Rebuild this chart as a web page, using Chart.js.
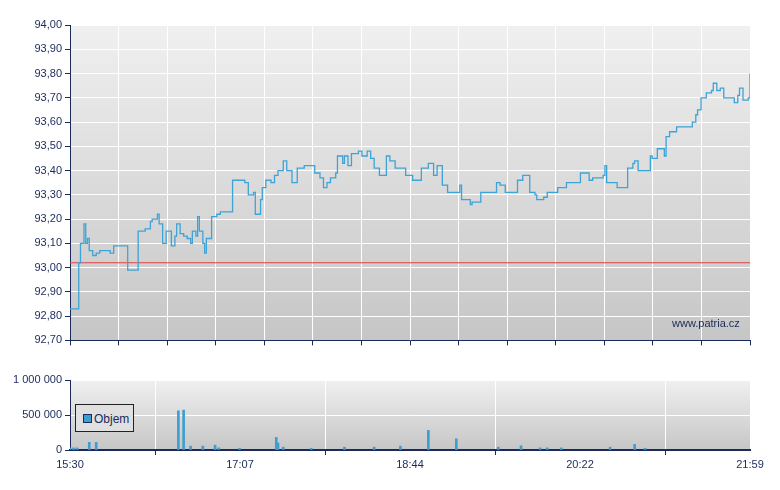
<!DOCTYPE html>
<html>
<head>
<meta charset="utf-8">
<script src="https://cdn.jsdelivr.net/npm/chart.js@4"></script>
<style>
  body { margin: 0; background: #fff; font-family: "Liberation Sans", Arial, sans-serif; }
  #wrap { position: relative; width: 780px; height: 490px; }
  .box { position: absolute; left: 0; width: 780px; }
  #legenda { position: absolute; left: 75px; top: 404px; width: 59px; height: 28px; border: 1px solid #222;
    background: #e0e0e0; font-size: 12px; color: #1a2a5a; box-sizing: border-box; padding: 7px 0 0 7px; }
  #legenda span { display: inline-block; width: 7px; height: 7px; background: #3d9fd0; border: 1px solid #1a2a5a; margin-right: 2px; }
  #patria { position: absolute; left: 672px; top: 317px; font-size: 11px; color: #1a2a5a; }
</style>
</head>
<body>
<div id="wrap">
  <div class="box" style="top:0;height:350px"><canvas id="grafCena"></canvas></div>
  <div class="box" style="top:370px;height:120px"><canvas id="grafObjem"></canvas></div>
  <div id="legenda"><span></span>Objem</div>
  <div id="patria">www.patria.cz</div>
</div>
<script>
// minuty od 15:30
const casy = [0,5,6,8,9,10,11,13,15,17,22,23,25,33,39,43,46,47,50,51,53,55,57,58,60,61,63,65,67,69,70,72,73,74,76,77,78,81,84,86,93,100,102,105,106,109,110,112,115,117,119,122,124,127,130,134,138,140,143,145,147,149,152,153,156,157,159,161,165,167,169,170,172,174,177,181,183,186,189,192,196,201,205,208,210,213,216,221,223,224,229,230,233,235,239,244,246,249,255,256,259,262,263,266,267,271,273,279,284,290,292,296,297,299,301,305,306,307,311,313,317,319,322,323,325,330,332,333,336,339,340,341,343,347,354,356,358,359,361,364,367,368,370,372,374,378,380,382,383,385,388,389];
const ceny = [92.83,93.02,93.10,93.18,93.10,93.12,93.07,93.05,93.06,93.07,93.07,93.06,93.09,92.99,93.15,93.16,93.19,93.20,93.22,93.18,93.10,93.15,93.15,93.09,93.13,93.18,93.14,93.13,93.12,93.10,93.15,93.13,93.21,93.15,93.10,93.06,93.12,93.21,93.22,93.23,93.36,93.35,93.30,93.31,93.22,93.28,93.33,93.36,93.35,93.38,93.40,93.44,93.40,93.35,93.41,93.42,93.42,93.39,93.37,93.33,93.35,93.37,93.39,93.46,93.43,93.46,93.42,93.47,93.48,93.46,93.46,93.48,93.45,93.41,93.38,93.46,93.44,93.41,93.41,93.38,93.36,93.41,93.43,93.38,93.42,93.34,93.31,93.31,93.34,93.28,93.26,93.27,93.27,93.31,93.31,93.35,93.34,93.31,93.31,93.36,93.38,93.38,93.31,93.30,93.28,93.29,93.31,93.33,93.35,93.35,93.39,93.39,93.36,93.37,93.37,93.38,93.42,93.35,93.35,93.33,93.33,93.41,93.43,93.44,93.40,93.40,93.46,93.45,93.49,93.49,93.46,93.54,93.56,93.58,93.58,93.60,93.63,93.65,93.70,93.72,93.73,93.76,93.73,93.74,93.70,93.70,93.68,93.71,93.74,93.69,93.70,93.80];
const predchoziZaviraci = 93.02;

const objemCasy = [0,2,4,11,15,62,65,69,76,83,85,97,118,119,122,138,157,174,189,205,221,245,258,269,273,281,309,323,329];
const objemy = [30000,30000,30000,110000,110000,560000,570000,55000,55000,70000,30000,25000,180000,100000,40000,25000,40000,40000,55000,280000,160000,40000,60000,30000,30000,30000,40000,80000,25000];

const popiskyCasu = ["15:30","17:07","18:44","20:22","21:59"];
const cenaTicky = [92.7, 94.0, 0.1];

const navy = "#1a2a5a";
const pismo = { family: "'Liberation Sans', Arial, sans-serif", size: 11 };

const pozadi = {
  id: "pozadi",
  beforeDraw(chart) {
    const { ctx, chartArea: a } = chart;
    const g = ctx.createLinearGradient(0, a.top, 0, a.bottom);
    g.addColorStop(0, "#f0f0f0");
    g.addColorStop(1, "#c6c6c6");
    ctx.save();
    ctx.fillStyle = g;
    ctx.fillRect(a.left, a.top, a.right - a.left, a.bottom - a.top);
    ctx.restore();
  }
};

new Chart(document.getElementById("grafCena"), {
  type: "line",
  data: {
    datasets: [
      {
        data: casy.map((c, i) => ({ x: c, y: ceny[i] })),
        borderColor: "#3ea3d6", borderWidth: 1.3, pointRadius: 0, stepped: true, order: 1
      },
      {
        data: [{ x: 0, y: predchoziZaviraci }, { x: 389, y: predchoziZaviraci }],
        borderColor: "#e04040", borderWidth: 1, pointRadius: 0, order: 2
      }
    ]
  },
  options: {
    responsive: true, maintainAspectRatio: false, animation: false,
    layout: { padding: { top: 25, right: 30, bottom: 5, left: 0 } },
    plugins: { legend: { display: false }, tooltip: { enabled: false } },
    scales: {
      x: {
        type: "linear", min: 0, max: 389,
        afterBuildTicks: s => { s.ticks = Array.from({ length: 15 }, (_, i) => ({ value: i * 389 / 14 })); },
        afterFit: s => { s.height = 0; },
        ticks: { display: false },
        grid: { color: "#ffffff", lineWidth: 1, tickColor: navy, tickLength: 5 },
        border: { color: navy, width: 1 }
      },
      y: {
        min: cenaTicky[0], max: cenaTicky[1],
        afterFit: s => { s.width = 70; },
        ticks: { stepSize: cenaTicky[2], color: navy, font: pismo, callback: v => v.toFixed(2).replace(".", ",") },
        grid: { color: "#ffffff", lineWidth: 1, tickColor: navy, tickLength: 5 },
        border: { color: navy, width: 1 }
      }
    }
  },
  plugins: [pozadi]
});

new Chart(document.getElementById("grafObjem"), {
  type: "bar",
  data: {
    datasets: [{
      data: objemCasy.map((c, i) => ({ x: c, y: objemy[i] })),
      backgroundColor: "#3d9fd0", barThickness: 2
    }]
  },
  options: {
    responsive: true, maintainAspectRatio: false, animation: false,
    layout: { padding: { top: 10, right: 30, bottom: 10, left: 0 } },
    plugins: { legend: { display: false }, tooltip: { enabled: false } },
    scales: {
      x: {
        type: "linear", min: 0, max: 389, offset: false,
        afterBuildTicks: s => { s.ticks = popiskyCasu.map((_, i) => ({ value: i * 389 / 4 })); },
        afterFit: s => { s.height = 30; },
        ticks: { color: navy, font: pismo, maxRotation: 0, autoSkip: false, callback: (v, i) => popiskyCasu[i] },
        grid: { color: "#ffffff", lineWidth: 1, tickColor: navy, tickLength: 5 },
        border: { color: navy, width: 2 }
      },
      y: {
        min: 0, max: 1000000,
        afterFit: s => { s.width = 70; },
        ticks: { stepSize: 500000, color: navy, font: pismo, callback: v => v.toLocaleString("cs-CZ").replace(/\s/g, " ") },
        grid: { color: "#ffffff", lineWidth: 1, tickColor: navy, tickLength: 5 },
        border: { color: navy, width: 1 }
      }
    }
  },
  plugins: [pozadi]
});
</script>
</body>
</html>
